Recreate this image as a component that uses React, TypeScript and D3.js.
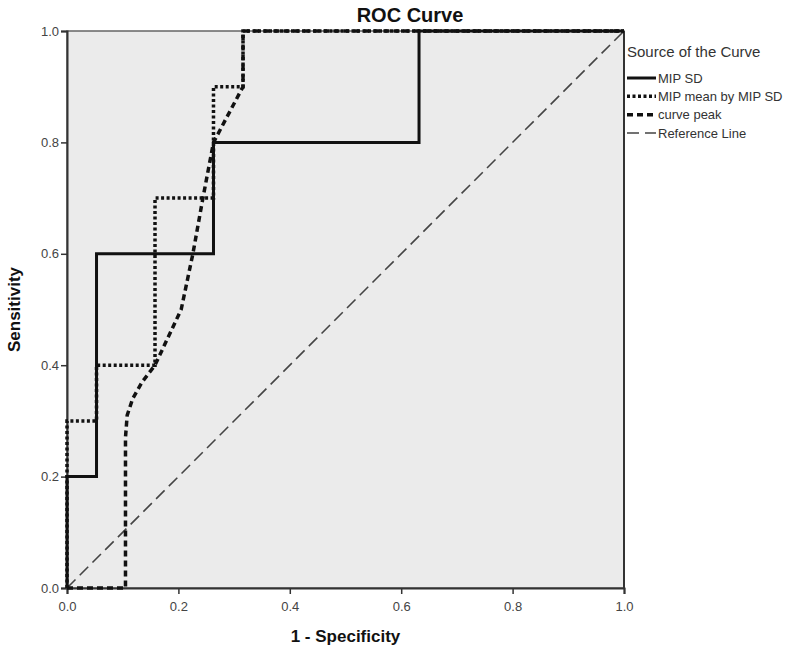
import React, { useEffect, useRef } from "react";
import * as d3 from "d3";

// ROC data (1 - specificity, sensitivity)
const mipSdX = [0, 0, 0.053, 0.053, 0.263, 0.263, 0.632, 0.632, 1];
const mipSdY = [0, 0.2, 0.2, 0.6, 0.6, 0.8, 0.8, 1, 1];

const mipMeanX = [0, 0, 0.053, 0.053, 0.158, 0.158, 0.263, 0.263, 0.316, 0.316, 1];
const mipMeanY = [0, 0.3, 0.3, 0.4, 0.4, 0.7, 0.7, 0.9, 0.9, 1, 1];

const curvePeakX = [0, 0.105, 0.105, 0.108, 0.118, 0.135, 0.158, 0.205, 0.226, 0.244, 0.263, 0.316, 0.316, 1];
const curvePeakY = [0, 0, 0.27, 0.31, 0.34, 0.37, 0.4, 0.5, 0.6, 0.7, 0.8, 0.9, 1, 1];

const refX = [0, 1];
const refY = [0, 1];

const tickValues = [0, 0.2, 0.4, 0.6, 0.8, 1.0];

const legendLabels = ["MIP SD", "MIP mean by MIP SD", "curve peak", "Reference Line"];

const zip = (xs: number[], ys: number[]) => xs.map((x, i) => [x, ys[i]] as [number, number]);

const App = () => {
  const svgRef = useRef<SVGSVGElement>(null);

  useEffect(() => {
    const width = 800;
    const height = 654;
    const margin = { top: 31, right: 176, bottom: 66, left: 67 };
    const innerWidth = width - margin.left - margin.right;
    const innerHeight = height - margin.top - margin.bottom;

    const svg = d3.select(svgRef.current);
    svg.selectAll("*").remove();

    const font = "Arial, 'Liberation Sans', sans-serif";

    const x = d3.scaleLinear().domain([0, 1]).range([0, innerWidth]);
    const y = d3.scaleLinear().domain([0, 1]).range([innerHeight, 0]);

    const g = svg.append("g").attr("transform", `translate(${margin.left},${margin.top})`);

    // plot background
    g.append("rect")
      .attr("width", innerWidth)
      .attr("height", innerHeight)
      .attr("fill", "#ebebeb")
      .attr("stroke", "#666")
      .attr("stroke-width", 1.5);

    // axes
    const xAxis = g.append("g")
      .attr("transform", `translate(0,${innerHeight})`)
      .call(d3.axisBottom(x).tickValues(tickValues).tickFormat(d3.format(".1f")).tickSizeOuter(0).tickSize(6));
    const yAxis = g.append("g")
      .call(d3.axisLeft(y).tickValues(tickValues).tickFormat(d3.format(".1f")).tickSizeOuter(0).tickSize(6));

    [xAxis, yAxis].forEach(ax => {
      ax.select(".domain").attr("stroke", "#333").attr("stroke-width", 2);
      ax.selectAll(".tick line").attr("stroke", "#333").attr("stroke-width", 1.5);
      ax.selectAll(".tick text")
        .attr("fill", "#444")
        .style("font-family", font)
        .style("font-size", "13px");
    });
    xAxis.selectAll(".tick text").attr("dy", "1.1em");
    yAxis.selectAll(".tick text").attr("x", -8);

    // right border darker
    g.append("line")
      .attr("x1", innerWidth).attr("x2", innerWidth)
      .attr("y1", 0).attr("y2", innerHeight)
      .attr("stroke", "#333").attr("stroke-width", 2);

    const line = d3.line<[number, number]>()
      .x(d => x(d[0]))
      .y(d => y(d[1]));

    const series = [
      { pts: zip(refX, refY), dash: "12,6", w: 1.6, color: "#444" },
      { pts: zip(curvePeakX, curvePeakY), dash: "6,4", w: 3.5, color: "#111" },
      { pts: zip(mipMeanX, mipMeanY), dash: "3,2.5", w: 3.5, color: "#111" },
      { pts: zip(mipSdX, mipSdY), dash: null, w: 3, color: "#111" },
    ];

    series.forEach(s => {
      g.append("path")
        .datum(s.pts)
        .attr("fill", "none")
        .attr("stroke", s.color)
        .attr("stroke-width", s.w)
        .attr("stroke-dasharray", s.dash)
        .attr("stroke-linejoin", "miter")
        .attr("d", line);
    });

    // title
    svg.append("text")
      .attr("x", 410)
      .attr("y", 22)
      .attr("text-anchor", "middle")
      .style("font-family", font)
      .style("font-weight", "bold")
      .style("font-size", "20px")
      .attr("fill", "#111")
      .text("ROC Curve");

    // axis titles
    svg.append("text")
      .attr("x", margin.left + innerWidth / 2)
      .attr("y", 642)
      .attr("text-anchor", "middle")
      .style("font-family", font)
      .style("font-weight", "bold")
      .style("font-size", "17px")
      .attr("fill", "#111")
      .text("1 - Specificity");

    svg.append("text")
      .attr("transform", `translate(20,${margin.top + innerHeight / 2}) rotate(-90)`)
      .attr("text-anchor", "middle")
      .style("font-family", font)
      .style("font-weight", "bold")
      .style("font-size", "17px")
      .attr("fill", "#111")
      .text("Sensitivity");

    // legend
    const lg = svg.append("g").attr("transform", "translate(627,0)");
    lg.append("text")
      .attr("x", 0)
      .attr("y", 57)
      .style("font-family", font)
      .style("font-size", "15px")
      .attr("fill", "#333")
      .text("Source of the Curve");

    const legendStyles = [
      { dash: null, w: 3, color: "#111" },
      { dash: "3,2.5", w: 3.5, color: "#111" },
      { dash: "6,4", w: 3.5, color: "#111" },
      { dash: "12,6", w: 1.6, color: "#444" },
    ];
    const legendY = d3.scalePoint<string>().domain(legendLabels).range([78, 133]);

    legendLabels.forEach((lab, i) => {
      const st = legendStyles[i];
      const yy = legendY(lab) as number;
      lg.append("line")
        .attr("x1", 0).attr("x2", 29)
        .attr("y1", yy).attr("y2", yy)
        .attr("stroke", st.color)
        .attr("stroke-width", st.w)
        .attr("stroke-dasharray", st.dash);
      lg.append("text")
        .attr("x", 31)
        .attr("y", yy)
        .attr("dy", "0.35em")
        .style("font-family", font)
        .style("font-size", "13px")
        .attr("fill", "#333")
        .text(lab);
    });
  }, []);

  return (
    <svg
      ref={svgRef}
      width={800}
      height={654}
      style={{ position: "absolute", left: 0, top: 0, background: "#fff" }}
    />
  );
};

export default App;
